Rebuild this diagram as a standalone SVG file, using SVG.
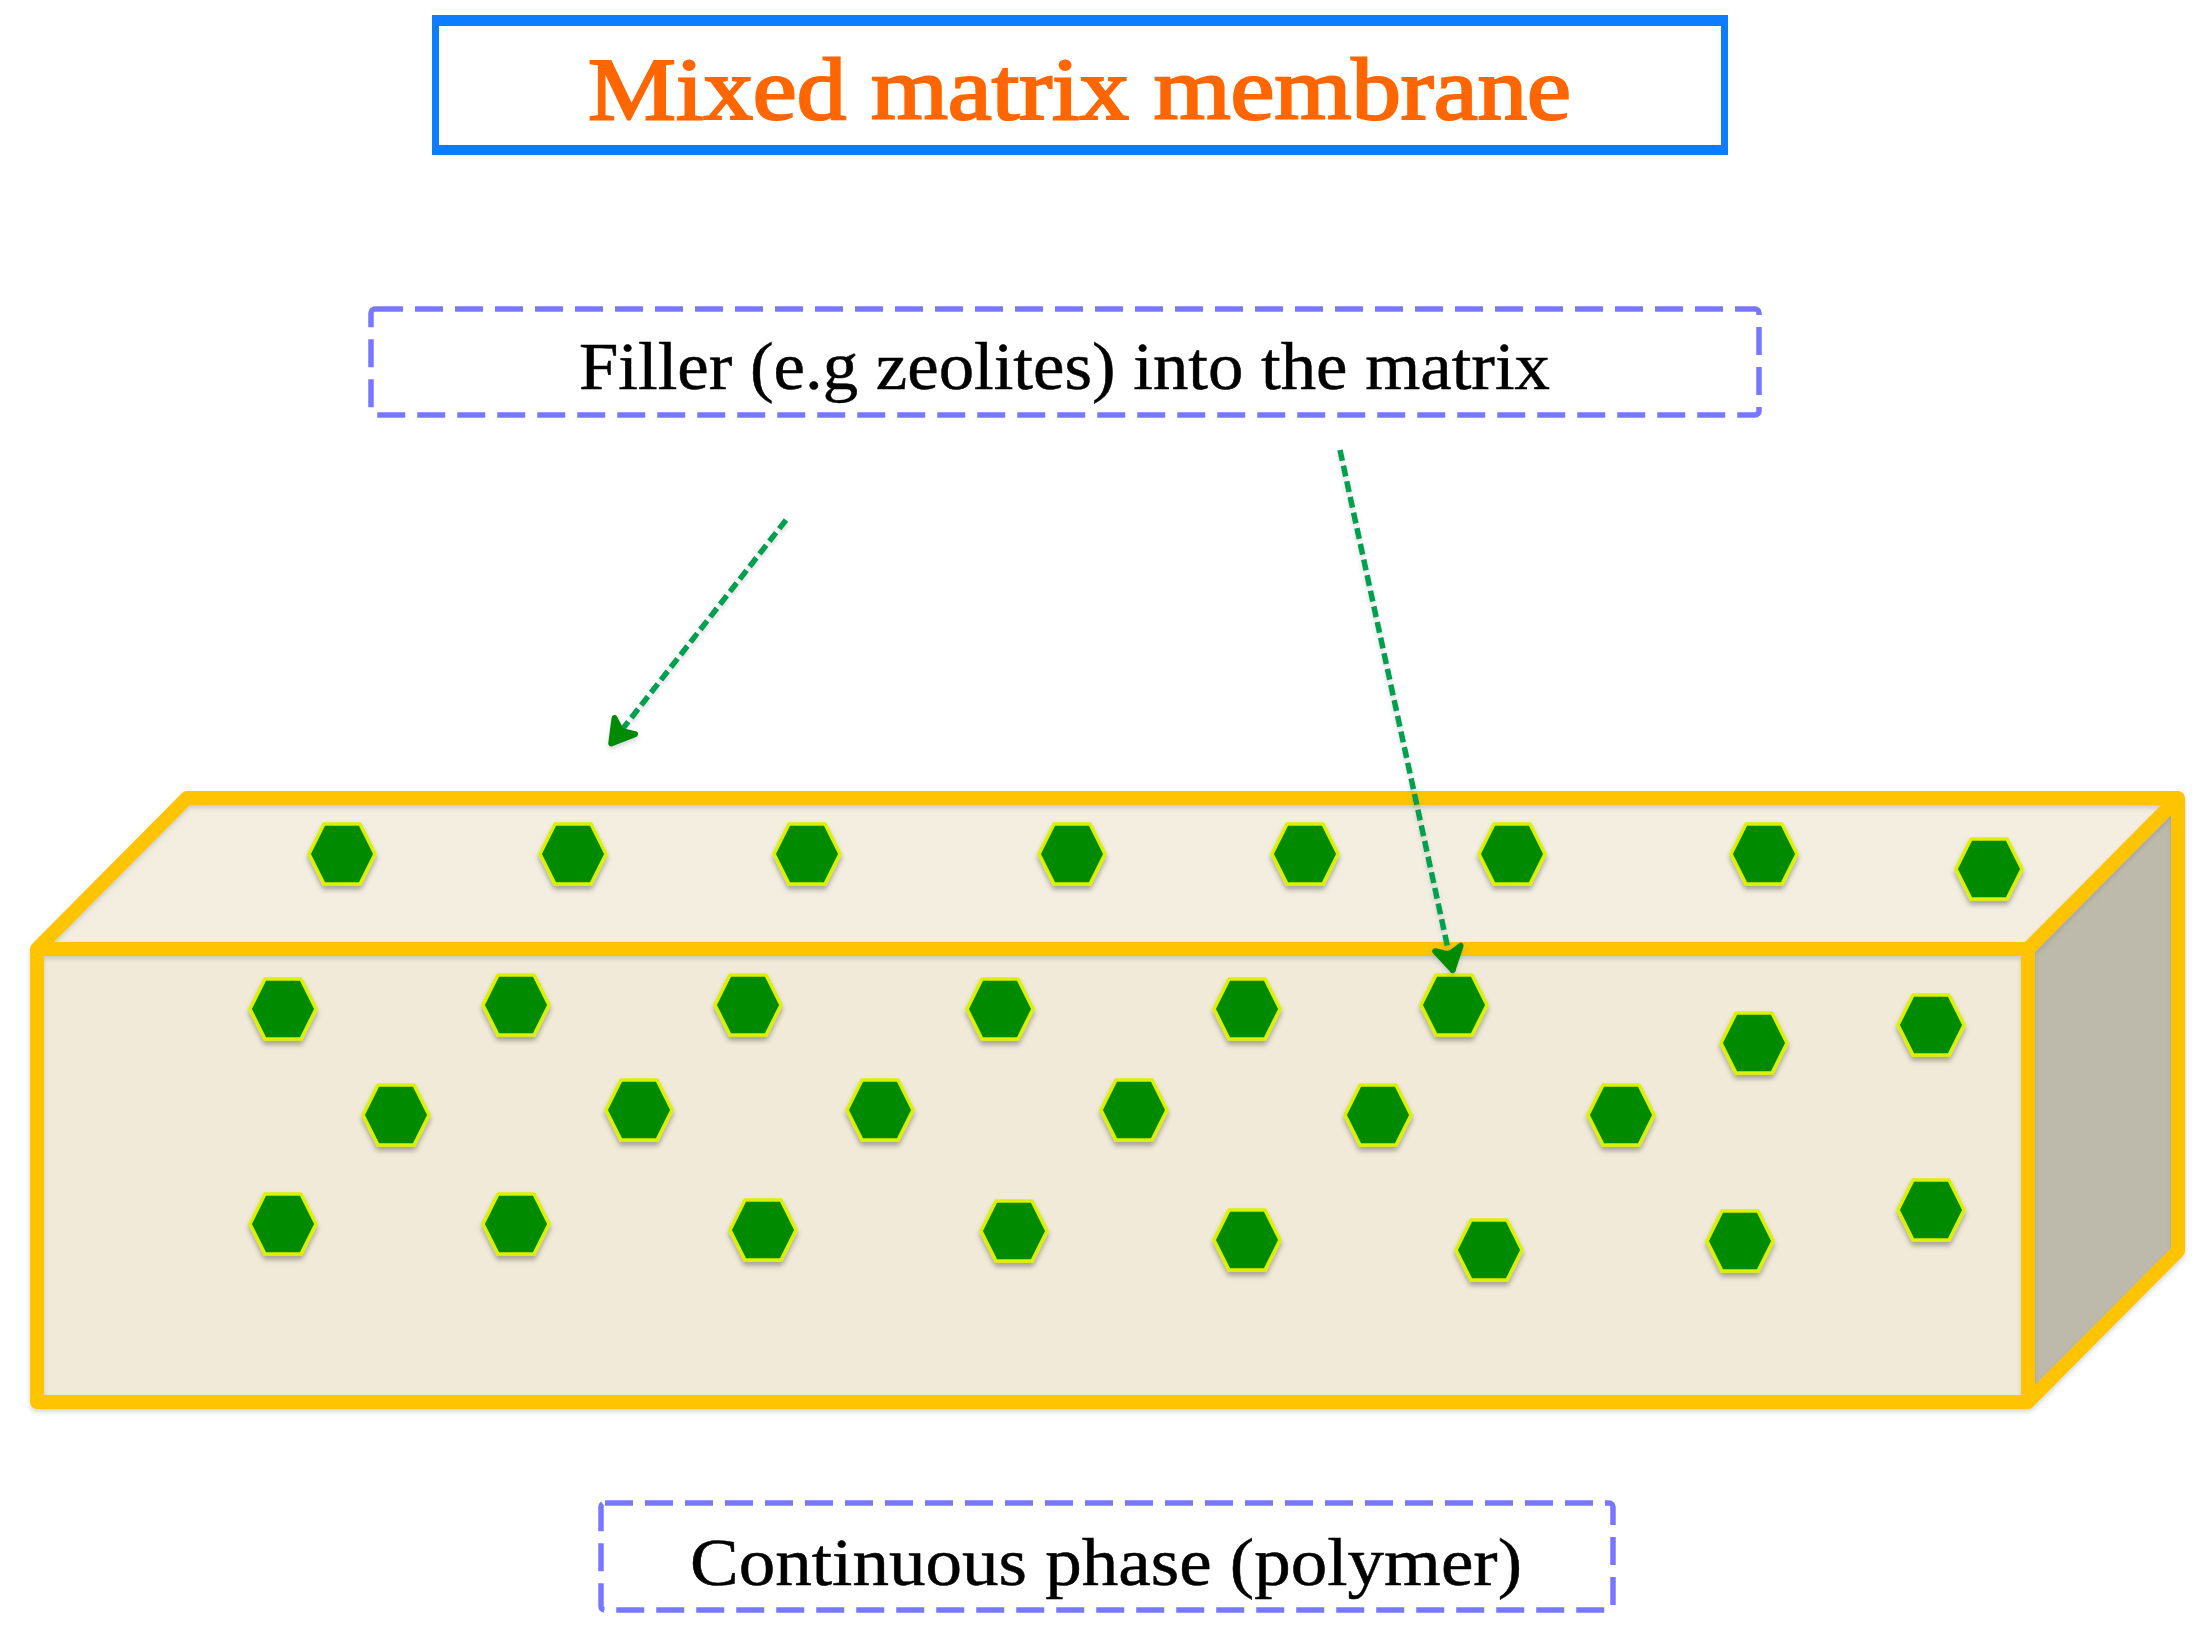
<svg xmlns="http://www.w3.org/2000/svg" width="2204" height="1628" viewBox="0 0 2204 1628">
<style>
text{font-family:"Liberation Serif","DejaVu Serif",serif;text-anchor:start}
.title{font-size:88px;fill:#ff6600;stroke:#ff6600;stroke-width:2.2}
.label{font-size:68px;fill:#000;stroke:#000;stroke-width:0.5}
.dash{fill:#fff;stroke:#7878ff;stroke-width:5.5;stroke-dasharray:28 12}
.edge{stroke:#ffc400;stroke-width:14;stroke-linejoin:round;stroke-linecap:round;filter:url(#soft)}
.hex{fill:#008a00;stroke:#dcf000;stroke-width:3.5;stroke-linejoin:round;filter:url(#sh)}
.arrow{fill:none;stroke:#00a050;stroke-width:5.5;stroke-dasharray:11 5;filter:url(#soft)}
</style>
<defs>
<filter id="all" filterUnits="userSpaceOnUse" x="0" y="0" width="2204" height="1628"><feGaussianBlur stdDeviation="0.7"/></filter>
<filter id="sh" x="-30%" y="-30%" width="160%" height="170%"><feDropShadow dx="0" dy="4" stdDeviation="2.5" flood-color="#000" flood-opacity="0.3"/></filter>
<filter id="soft" filterUnits="userSpaceOnUse" x="0" y="0" width="2204" height="1628"><feDropShadow dx="0" dy="3" stdDeviation="2" flood-color="#5a6a80" flood-opacity="0.25"/></filter>
<marker id="head" markerUnits="userSpaceOnUse" markerWidth="48" markerHeight="48" refX="38" refY="24" orient="auto"><path d="M14 11L36 24L14 37L20 24Z" fill="#008a00" stroke="#008a00" stroke-width="6" stroke-linecap="round" stroke-linejoin="round"/></marker>
<polygon id="h" points="-33,0 -18,-30 18,-30 33,0 18,30 -18,30"/>
</defs>
<rect width="2204" height="1628" fill="#fff"/>
<g filter="url(#all)">
<g id="title-box">
<path fill="#0a7cff" fill-rule="evenodd" d="M432 15H1728V155H432ZM439 26V145H1721V26Z"/>
<text class="title" x="588" y="119" textLength="983" lengthAdjust="spacingAndGlyphs">Mixed matrix membrane</text>
</g>
<g id="filler-label">
<rect class="dash" x="371" y="309" width="1388" height="106" rx="4"/>
<text class="label" x="579" y="389" textLength="971" lengthAdjust="spacingAndGlyphs">Filler (e.g zeolites) into the matrix</text>
</g>
<g id="membrane">
<polygon points="37,949 187,798 2178,798 2028,949" fill="#f3eee0"/>
<polygon points="37,949 2028,949 2028,1402 37,1402" fill="#f1ead8"/>
<polygon points="2028,949 2178,798 2178,1251 2028,1402" fill="#bdb9ab"/>
<path class="edge" fill="none" d="M37 949L187 798H2178V1251L2028 1402H37ZM37 949H2028L2178 798M2028 949V1402"/>
</g>
<g id="particles">
<use href="#h" class="hex" x="342" y="854"/><use href="#h" class="hex" x="573" y="854"/><use href="#h" class="hex" x="807" y="854"/><use href="#h" class="hex" x="1072" y="854"/><use href="#h" class="hex" x="1305" y="854"/><use href="#h" class="hex" x="1512" y="854"/><use href="#h" class="hex" x="1764" y="854"/><use href="#h" class="hex" x="1989" y="869"/>
<use href="#h" class="hex" x="283" y="1009"/><use href="#h" class="hex" x="516" y="1005"/><use href="#h" class="hex" x="748" y="1005"/><use href="#h" class="hex" x="1000" y="1009"/><use href="#h" class="hex" x="1247" y="1009"/><use href="#h" class="hex" x="1454" y="1005"/><use href="#h" class="hex" x="1754" y="1043"/><use href="#h" class="hex" x="1931" y="1025"/>
<use href="#h" class="hex" x="396" y="1115"/><use href="#h" class="hex" x="639" y="1110"/><use href="#h" class="hex" x="880" y="1110"/><use href="#h" class="hex" x="1134" y="1110"/><use href="#h" class="hex" x="1378" y="1115"/><use href="#h" class="hex" x="1621" y="1115"/>
<use href="#h" class="hex" x="283" y="1224"/><use href="#h" class="hex" x="516" y="1224"/><use href="#h" class="hex" x="763" y="1230"/><use href="#h" class="hex" x="1014" y="1231"/><use href="#h" class="hex" x="1247" y="1240"/><use href="#h" class="hex" x="1489" y="1250"/><use href="#h" class="hex" x="1740" y="1241"/><use href="#h" class="hex" x="1931" y="1210"/>
</g>
<g id="continuous-label">
<rect class="dash" x="601" y="1503" width="1012" height="107" rx="4"/>
<text class="label" x="690" y="1585" textLength="832" lengthAdjust="spacingAndGlyphs">Continuous phase (polymer)</text>
</g>
<g id="connectors">
<line class="arrow" x1="786" y1="520" x2="610" y2="745" marker-end="url(#head)"/>
<line class="arrow" x1="1340" y1="450" x2="1453" y2="972" marker-end="url(#head)"/>
</g>
</g>
</svg>
